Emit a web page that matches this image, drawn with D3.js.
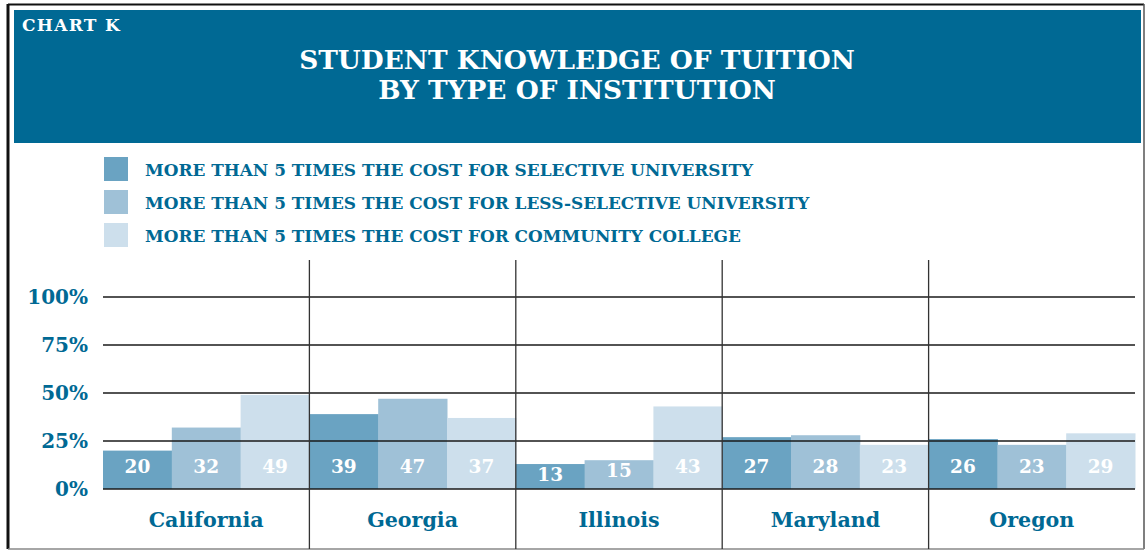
<!DOCTYPE html>
<html>
<head>
<meta charset="utf-8">
<script src="https://cdn.jsdelivr.net/npm/d3@7"></script>
<style>
  html, body { margin: 0; padding: 0; background: #fff; }
  svg { display: block; }
  text { font-family: "DejaVu Serif", "Liberation Serif", serif; font-weight: bold; }
</style>
</head>
<body>
<svg id="chart" width="1147" height="550"></svg>
<script>
const categories = ["California", "Georgia", "Illinois", "Maryland", "Oregon"];
const seriesNames = [
  "MORE THAN 5 TIMES THE COST FOR SELECTIVE UNIVERSITY",
  "MORE THAN 5 TIMES THE COST FOR LESS-SELECTIVE UNIVERSITY",
  "MORE THAN 5 TIMES THE COST FOR COMMUNITY COLLEGE"
];
const selective = [20, 39, 13, 27, 26];
const lessSelective = [32, 47, 15, 28, 23];
const communityCollege = [49, 37, 43, 23, 29];
const yTicks = [0, 25, 50, 75, 100];
const chartLabel = "CHART K";
const titleLines = ["STUDENT KNOWLEDGE OF TUITION", "BY TYPE OF INSTITUTION"];

const seriesValues = [selective, lessSelective, communityCollege];
const colors = ["#6aa3c2", "#9fc1d7", "#cddfec"];
const blue = "#006994";

const svg = d3.select("#chart");

// frame
svg.append("line").attr("x1", 8).attr("x2", 1144).attr("y1", 4.5).attr("y2", 4.5).attr("stroke", "#111").attr("stroke-width", 2);
svg.append("line").attr("x1", 8).attr("x2", 8).attr("y1", 4).attr("y2", 549).attr("stroke", "#111").attr("stroke-width", 3);
svg.append("line").attr("x1", 1144).attr("x2", 1144).attr("y1", 4).attr("y2", 549).attr("stroke", "#555").attr("stroke-width", 1.5);
svg.append("line").attr("x1", 8).attr("x2", 1144).attr("y1", 549).attr("y2", 549).attr("stroke", "#888").attr("stroke-width", 1.5);

// header
svg.append("rect").attr("x", 14).attr("y", 10).attr("width", 1127).attr("height", 133).attr("fill", blue);
svg.append("text").attr("x", 22).attr("y", 31).attr("fill", "#fff").attr("font-size", 17)
  .attr("letter-spacing", 1.3).text(chartLabel);
svg.selectAll("text.title").data(titleLines).enter().append("text")
  .attr("class", "title")
  .attr("x", 577).attr("y", (d, i) => 69 + i * 30)
  .attr("text-anchor", "middle").attr("fill", "#fff").attr("font-size", 26.4)
  .text(d => d);

// legend
const lg = svg.selectAll("g.legend").data(seriesNames).enter().append("g")
  .attr("class", "legend")
  .attr("transform", (d, i) => `translate(104, ${157 + i * 33})`);
lg.append("rect").attr("width", 24).attr("height", 24).attr("fill", (d, i) => colors[i]);
lg.append("text").attr("x", 41).attr("y", 19).attr("fill", blue).attr("font-size", 16.9).text(d => d);

// scales
const x0 = d3.scaleBand().domain(categories).range([103, 1135]).padding(0);
const x1 = d3.scaleBand().domain([0, 1, 2]).range([0, x0.bandwidth()]).padding(0);
const y = d3.scaleLinear().domain([0, 100]).range([489, 297]);

// bars
const groups = svg.selectAll("g.grp").data(categories).enter().append("g")
  .attr("class", "grp")
  .attr("transform", d => `translate(${x0(d)},0)`);
groups.selectAll("rect").data((d, ci) => seriesValues.map((s, si) => ({si, v: s[ci]})))
  .enter().append("rect")
  .attr("x", d => x1(d.si)).attr("width", x1.bandwidth() + 0.5)
  .attr("y", d => y(d.v)).attr("height", d => y(0) - y(d.v))
  .attr("fill", d => colors[d.si]);

// gridlines (on top of bars)
svg.selectAll("line.grid").data(yTicks).enter().append("line")
  .attr("class", "grid")
  .attr("x1", 103).attr("x2", 1135)
  .attr("y1", d => y(d)).attr("y2", d => y(d))
  .attr("stroke", "#1a1a1a").attr("stroke-width", 1.3);

// y tick labels
svg.selectAll("text.ytick").data(yTicks).enter().append("text")
  .attr("class", "ytick")
  .attr("x", 88).attr("y", d => y(d) + 7)
  .attr("text-anchor", "end").attr("fill", blue).attr("font-size", 20)
  .text(d => d + "%");

// value labels
groups.selectAll("text.val").data((d, ci) => seriesValues.map((s, si) => ({si, v: s[ci]})))
  .enter().append("text")
  .attr("class", "val")
  .attr("x", d => x1(d.si) + x1.bandwidth() / 2)
  .attr("y", d => Math.max(473, y(d.v) + 17))
  .attr("text-anchor", "middle").attr("fill", "#fff").attr("font-size", 18.5)
  .text(d => d.v);

// dividers
svg.selectAll("line.div").data(categories.slice(1)).enter().append("line")
  .attr("class", "div")
  .attr("x1", d => x0(d)).attr("x2", d => x0(d))
  .attr("y1", 260).attr("y2", 549)
  .attr("stroke", "#333").attr("stroke-width", 1.3);

// category labels
svg.selectAll("text.cat").data(categories).enter().append("text")
  .attr("class", "cat")
  .attr("x", d => x0(d) + x0.bandwidth() / 2).attr("y", 527)
  .attr("text-anchor", "middle").attr("fill", blue).attr("font-size", 20.6)
  .text(d => d);
</script>
</body>
</html>
